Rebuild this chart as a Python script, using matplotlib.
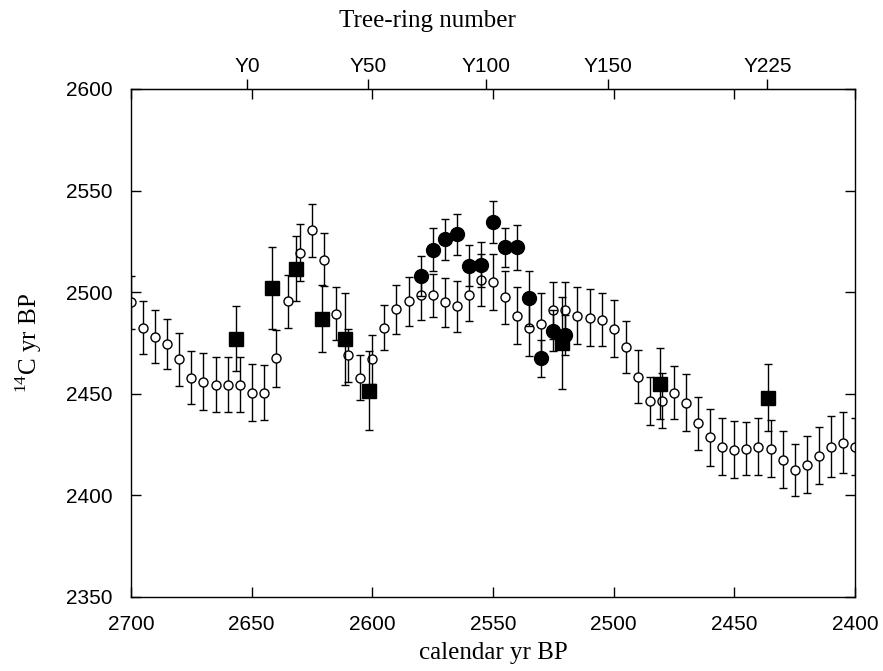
import matplotlib
matplotlib.use('Agg')
import matplotlib.pyplot as plt
import numpy as np

plt.rcParams['font.family'] = ['Liberation Sans', 'DejaVu Sans']
plt.rcParams['mathtext.fontset'] = 'custom'
plt.rcParams['mathtext.rm'] = 'Liberation Serif'

# calibration curve (open circles), every 5 yr
cal_yr = np.arange(2700, 2395, -5)
cal_c14 = [2495, 2482.5, 2478, 2474.5, 2467, 2458, 2456, 2454.5, 2454.5, 2454.5,
           2450.5, 2450.5, 2467.5, 2495.5, 2519.5, 2530.5, 2516, 2489.5, 2469, 2458,
           2467, 2482.5, 2491.5, 2495.5, 2498.5, 2498.5, 2495, 2493, 2498.5, 2506,
           2505, 2497.5, 2488.5, 2482.5, 2484.5, 2491, 2491, 2488.5, 2487.5, 2486.5,
           2482, 2473, 2458.5, 2446.5, 2446.5, 2450.5, 2445.5, 2435.5, 2428.5, 2424,
           2422.5, 2423, 2424, 2423, 2417.5, 2412.5, 2415, 2419.5, 2424, 2426, 2424]
cal_err = [13, 13, 13, 12.5, 13, 13, 14, 13.5, 13.5, 13.5,
           14, 13.5, 14, 13, 14, 13, 13, 13, 13, 11,
           12, 11, 12, 12, 12, 10.5, 12, 12.5, 12.5, 13,
           14, 13, 14, 14, 15, 14, 14, 14, 14, 13,
           14, 13, 13, 12, 13.5, 13, 14, 13, 14, 14,
           14, 13, 14, 14, 14, 13, 14, 14, 15, 15, 14]

# filled squares
sq_yr = [2656.5, 2641.5, 2631.5, 2621, 2611.5, 2601.5, 2521.5, 2481, 2436]
sq_c14 = [2477, 2502, 2511.5, 2487, 2477, 2451.5, 2475, 2455, 2448]
sq_err = [16, 20, 16, 16.5, 22.5, 19.5, 22.5, 17.5, 16.5]

# filled circles
dot_yr = [2580, 2575, 2570, 2565, 2560, 2555, 2550, 2545, 2540, 2535, 2530, 2525, 2520]
dot_c14 = [2508, 2521, 2526, 2528.5, 2513, 2513.5, 2534.5, 2522, 2522, 2497, 2467.5, 2481, 2479]
dot_err = [10, 10.5, 10, 10, 10, 11, 10.5, 9.5, 11, 13.5, 9, 10, 10]

# tree-ring axis
ring_pos = [2652, 2601.6, 2553, 2502.3, 2436.3]
ring_labels = ['Y0', 'Y50', 'Y100', 'Y150', 'Y225']

fig = plt.figure(figsize=(8.83, 6.71), dpi=100)
ax = fig.add_axes([0.1484, 0.1103, 0.8199, 0.7571])

ax.errorbar(cal_yr, cal_c14, yerr=cal_err, fmt='o', ms=6.5, mfc='white', mec='black',
            mew=1, ecolor='black', elinewidth=1, capsize=3, capthick=1, zorder=2)
ax.errorbar(sq_yr, sq_c14, yerr=sq_err, fmt='s', ms=10, color='black',
            elinewidth=1, capsize=3, capthick=1, zorder=3)
ax.errorbar(dot_yr, dot_c14, yerr=dot_err, fmt='o', ms=10, color='black',
            elinewidth=1, capsize=3, capthick=1, zorder=4)

ax.set_xlim(2700, 2400)
ax.set_ylim(2350, 2600)
ax.set_xticks([2700, 2650, 2600, 2550, 2500, 2450, 2400])
ax.set_yticks([2350, 2400, 2450, 2500, 2550, 2600])
ax.tick_params(direction='in', top=True, right=True, length=7, width=1,
               labelsize=15, pad=13)
for s in ax.spines.values():
    s.set_linewidth(1)

ax.set_xlabel('calendar yr BP', family='Liberation Serif', fontsize=18, labelpad=6)
ax.set_ylabel(r'$^{\mathrm{14}}$C yr BP', family='Liberation Serif', fontsize=18,
              labelpad=16)

top = ax.secondary_xaxis('top')
top.set_xticks(ring_pos)
top.set_xticklabels(ring_labels, family=['Liberation Sans Narrow', 'Liberation Sans'])
top.tick_params(direction='out', length=7, width=1, labelsize=15, pad=2)
top.set_xlabel('Tree-ring number', family='Liberation Serif', fontsize=18, labelpad=22)
top.xaxis.label.set_x(0.41)

fig.savefig('out.png', dpi=100)
